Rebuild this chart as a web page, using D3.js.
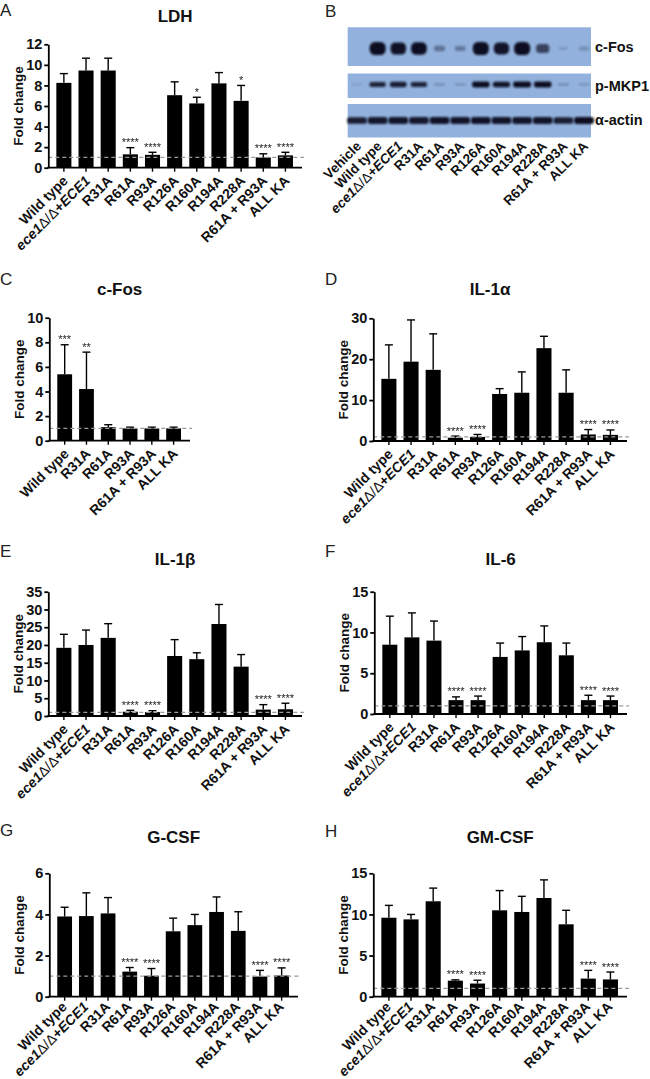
<!DOCTYPE html>
<html><head><meta charset="utf-8">
<script src="https://cdn.jsdelivr.net/npm/d3@7"></script>
<style>
body{margin:0;background:#fff;}
svg{display:block;font-family:"Liberation Sans",Arial,Helvetica,sans-serif;}
</style>
</head><body>
<svg id="fig" width="650" height="1079"></svg>
<script>
// ---------------- DATA ----------------
const mutants = ["Wild type","ece1Δ/Δ+ECE1","R31A","R61A","R93A","R126A","R160A","R194A","R228A","R61A + R93A","ALL KA"];
const cFosCategories = ["Wild type","R31A","R61A","R93A","R61A + R93A","ALL KA"];
const blotLanes = ["Vehicle","Wild type","ece1Δ/Δ+ECE1","R31A","R61A","R93A","R126A","R160A","R194A","R228A","R61A + R93A","ALL KA"];

// Western blot band intensities (0..1)
const blotCFos   = [0.00, 1.00, 0.92, 0.95, 0.30, 0.25, 1.00, 0.90, 1.00, 0.60, 0.05, 0.12];
const blotPMKP1  = [0.03, 0.80, 0.85, 0.80, 0.12, 0.10, 0.95, 0.90, 1.00, 0.95, 0.12, 0.08];
const blotActin  = [0.85, 0.88, 0.90, 0.88, 0.92, 0.90, 0.92, 0.90, 0.90, 0.90, 0.85, 0.95];

// A: LDH
const ldhMean  = [8.25, 9.45, 9.45, 1.30, 1.25, 7.05, 6.25, 8.20, 6.50, 1.00, 1.20];
const ldhSD    = [0.90, 1.20, 1.20, 0.65, 0.25, 1.30, 0.60, 1.05, 1.50, 0.35, 0.30];
const ldhStars = ["", "", "", "****", "****", "", "*", "", "*", "****", "****"];

// C: c-Fos
const cFosMean  = [5.40, 4.20, 1.10, 1.00, 1.00, 1.00];
const cFosSD    = [2.40, 3.00, 0.20, 0.10, 0.10, 0.10];
const cFosStars = ["***", "**", "", "", "", ""];

// D: IL-1alpha
const il1aMean  = [15.2, 19.4, 17.4, 0.8, 1.0, 11.5, 11.8, 22.7, 11.8, 1.6, 1.5];
const il1aSD    = [8.3, 10.2, 8.8, 0.4, 0.6, 1.3, 5.1, 2.9, 5.6, 1.2, 1.2];
const il1aStars = ["", "", "", "****", "****", "", "", "", "", "****", "****"];

// E: IL-1beta
const il1bMean  = [19.2, 20.0, 22.0, 1.2, 1.1, 16.9, 16.0, 25.9, 13.9, 1.8, 1.9];
const il1bSD    = [3.8, 4.2, 4.0, 0.4, 0.4, 4.6, 1.8, 5.5, 3.4, 1.4, 1.7];
const il1bStars = ["", "", "", "****", "****", "", "", "", "", "****", "****"];

// F: IL-6
const il6Mean  = [8.5, 9.4, 9.0, 1.7, 1.7, 7.0, 7.8, 8.8, 7.2, 1.7, 1.7];
const il6SD    = [3.5, 3.0, 2.4, 0.4, 0.5, 1.7, 1.7, 2.0, 1.5, 0.6, 0.5];
const il6Stars = ["", "", "", "****", "****", "", "", "", "", "****", "****"];

// G: G-CSF
const gcsfMean  = [3.90, 3.92, 4.05, 1.22, 1.02, 3.18, 3.48, 4.12, 3.20, 0.98, 1.03];
const gcsfSD    = [0.45, 1.13, 0.77, 0.20, 0.35, 0.64, 0.52, 0.73, 0.93, 0.30, 0.37];
const gcsfStars = ["", "", "", "****", "****", "", "", "", "", "****", "****"];

// H: GM-CSF
const gmcsfMean  = [9.6, 9.4, 11.6, 1.95, 1.6, 10.5, 10.3, 12.0, 8.8, 2.2, 2.1];
const gmcsfSD    = [1.5, 0.6, 1.6, 0.10, 0.4, 2.4, 1.9, 2.2, 1.7, 1.0, 0.9];
const gmcsfStars = ["", "", "", "****", "****", "", "", "", "", "****", "****"];

// ---------------- DRAWING ----------------
const svg = d3.select("#fig");
const FONT_COLOR = "#111";

const defs = svg.append("defs");
defs.append("filter").attr("id", "blur").attr("x", "-50%").attr("y", "-50%")
  .attr("width", "200%").attr("height", "200%")
  .append("feGaussianBlur").attr("stdDeviation", 0.9);
defs.append("filter").attr("id", "gray").attr("x", "-20%").attr("y", "-50%")
  .attr("width", "140%").attr("height", "200%")
  .append("feOffset").attr("dx", 0).attr("dy", 0);

function writeLabel(textSel, label) {
  if (label === "ece1Δ/Δ+ECE1") {
    textSel.append("tspan").attr("font-style", "italic").text("ece1");
    textSel.append("tspan").attr("font-weight", "normal").text("Δ/Δ");
    textSel.append("tspan").text("+");
    textSel.append("tspan").attr("font-style", "italic").text("ECE1");
  } else {
    textSel.text(label);
  }
}

const panels = [
  {letter:"A", lx:0,   ly:16,  title:"LDH",    cats:mutants, means:ldhMean, sd:ldhSD, stars:ldhStars,
   axisX:48.3, xEnd:302, yTop:44.3, yBot:167.7, yMax:12, step:2, titleY:22, ldx:5, ldy:14},
  {letter:"C", lx:0,   ly:285, title:"c-Fos",  cats:cFosCategories, means:cFosMean, sd:cFosSD, stars:cFosStars,
   axisX:49.3, xEnd:190, yTop:317.7, yBot:440.7, yMax:10, step:2, titleY:295, ldx:5, ldy:14},
  {letter:"D", lx:325, ly:285, title:"IL-1α",  cats:mutants, means:il1aMean, sd:il1aSD, stars:il1aStars,
   axisX:373.3, xEnd:627, yTop:318.3, yBot:441, yMax:30, step:10, titleY:295, titleX:490, ldx:5, ldy:14},
  {letter:"E", lx:0,   ly:557, title:"IL-1β",  cats:mutants, means:il1bMean, sd:il1bSD, stars:il1bStars,
   axisX:48.3, xEnd:302, yTop:591.7, yBot:716, yMax:35, step:5, titleY:565, ldx:5, ldy:14},
  {letter:"F", lx:325, ly:557, title:"IL-6",   cats:mutants, means:il6Mean, sd:il6SD, stars:il6Stars,
   axisX:374.3, xEnd:627, yTop:591.7, yBot:714, yMax:15, step:5, titleY:565, ldx:5, ldy:14},
  {letter:"G", lx:0,   ly:836, title:"G-CSF",  cats:mutants, means:gcsfMean, sd:gcsfSD, stars:gcsfStars,
   axisX:49.3, xEnd:298, yTop:873.3, yBot:996.7, yMax:6, step:2, titleY:843, ldx:3, ldy:11},
  {letter:"H", lx:325, ly:837, title:"GM-CSF", cats:mutants, means:gmcsfMean, sd:gmcsfSD, stars:gmcsfStars,
   axisX:373.3, xEnd:627, yTop:873.3, yBot:996.7, yMax:15, step:5, titleY:843, ldx:3, ldy:11}
];

panels.forEach(p => {
  const g = svg.append("g");
  g.append("text").attr("x", p.lx).attr("y", p.ly).attr("font-size", 17)
    .attr("fill", "#222").text(p.letter);
  g.append("text").attr("x", p.titleX || (p.axisX + p.xEnd) / 2).attr("y", p.titleY)
    .attr("text-anchor", "middle").attr("font-size", 17).attr("font-weight", "bold")
    .attr("fill", FONT_COLOR).text(p.title);

  const x = d3.scaleBand().domain(p.cats).range([p.axisX + 4.5, p.xEnd - 5.5])
    .paddingInner(0.32).paddingOuter(0.16);
  const y = d3.scaleLinear().domain([0, p.yMax]).range([p.yBot, p.yTop]);

  const rows = p.cats.map((c, i) => ({c, m: p.means[i], s: p.sd[i], st: p.stars[i]}));

  g.selectAll("rect.bar").data(rows).join("rect").attr("class", "bar")
    .attr("x", d => x(d.c)).attr("width", x.bandwidth())
    .attr("y", d => y(d.m)).attr("height", d => y(0) - y(d.m)).attr("fill", "#000");

  const eb = g.selectAll("g.eb").data(rows).join("g").attr("class", "eb")
    .attr("stroke", "#000").attr("stroke-width", 1.4);
  eb.append("line")
    .attr("x1", d => x(d.c) + x.bandwidth() / 2).attr("x2", d => x(d.c) + x.bandwidth() / 2)
    .attr("y1", d => y(d.m)).attr("y2", d => y(d.m + d.s));
  eb.append("line")
    .attr("x1", d => x(d.c) + x.bandwidth() / 2 - 4).attr("x2", d => x(d.c) + x.bandwidth() / 2 + 4)
    .attr("y1", d => y(d.m + d.s)).attr("y2", d => y(d.m + d.s));

  g.append("g").attr("filter", "url(#gray)")
    .selectAll("text.star").data(rows.filter(d => d.st)).join("text").attr("class", "star")
    .attr("x", d => x(d.c) + x.bandwidth() / 2).attr("y", d => y(d.m + d.s) - 1.5)
    .attr("text-anchor", "middle").attr("font-size", 11).attr("fill", "#222")
    .text(d => d.st);

  g.append("line").attr("x1", p.axisX).attr("x2", p.xEnd + 2)
    .attr("y1", y(1)).attr("y2", y(1))
    .attr("stroke", "#9a9a9a").attr("stroke-width", 1.2).attr("stroke-dasharray", "4,3");

  const ya = g.append("g").attr("transform", `translate(${p.axisX},0)`)
    .call(d3.axisLeft(y).tickValues(d3.range(0, p.yMax + p.step / 2, p.step))
      .tickSize(4).tickSizeOuter(0).tickPadding(2).tickFormat(d3.format("d")));
  ya.select(".domain").attr("stroke", "#000").attr("stroke-width", 1.8);
  ya.selectAll(".tick line").attr("stroke", "#000").attr("stroke-width", 1.8);
  ya.selectAll(".tick text").attr("font-size", 14.5).attr("font-weight", "bold")
    .attr("fill", FONT_COLOR).attr("font-family", null);

  const xa = g.append("g").attr("transform", `translate(0,${p.yBot})`)
    .call(d3.axisBottom(x).tickSize(4).tickSizeOuter(0).tickFormat(""));
  xa.select(".domain").remove();
  xa.selectAll(".tick line").attr("stroke", "#000").attr("stroke-width", 1.4);
  g.append("line").attr("x1", p.axisX - 0.9).attr("x2", p.xEnd)
    .attr("y1", p.yBot).attr("y2", p.yBot).attr("stroke", "#000").attr("stroke-width", 1.8);

  p.cats.forEach(c => {
    const cx = x(c) + x.bandwidth() / 2;
    const t = g.append("text")
      .attr("transform", `translate(${cx + p.ldx},${p.yBot + p.ldy}) rotate(-45)`)
      .attr("text-anchor", "end").attr("font-size", 14).attr("font-weight", "bold")
      .attr("fill", FONT_COLOR);
    writeLabel(t, c);
  });

  g.append("text")
    .attr("transform", `translate(${p.axisX - 25},${(p.yTop + p.yBot) / 2}) rotate(-90)`)
    .attr("text-anchor", "middle").attr("font-size", 13.5).attr("font-weight", "bold")
    .attr("fill", FONT_COLOR).text("Fold change");
});

// ---------------- PANEL B: western blot ----------------
const gb = svg.append("g");
gb.append("text").attr("x", 325).attr("y", 17).attr("font-size", 17).attr("fill", "#222").text("B");

const lane = d3.scalePoint().domain(blotLanes).range([357, 584]);
const blotRows = [
  {name:"c-Fos",   vals:blotCFos,  y0:27.3, y1:66,    cy:48.5, hMin:2.5, hMax:13, wMin:9,  wMax:16, ly:52},
  {name:"p-MKP1",  vals:blotPMKP1, y0:73.5, y1:98,    cy:84.5, hMin:2,   hMax:6,  wMin:10, wMax:18, ly:91},
  {name:"α-actin", vals:blotActin, y0:104,  y1:137.5, cy:120.5,hMin:5,   hMax:7,  wMin:18, wMax:20, ly:125}
];
blotRows.forEach(r => {
  gb.append("rect").attr("x", 347.7).attr("y", r.y0).attr("width", 591 - 347.7)
    .attr("height", r.y1 - r.y0).attr("fill", "#92b1dc");
  const bands = blotLanes.map((l, i) => ({l, v: r.vals[i]})).filter(d => d.v > 0.01);
  gb.selectAll(null).data(bands).join("rect")
    .attr("x", d => lane(d.l) - (r.wMin + (r.wMax - r.wMin) * d.v) / 2)
    .attr("width", d => r.wMin + (r.wMax - r.wMin) * d.v)
    .attr("y", d => r.cy - (r.hMin + (r.hMax - r.hMin) * d.v) / 2)
    .attr("height", d => r.hMin + (r.hMax - r.hMin) * d.v)
    .attr("rx", d => (r.hMin + (r.hMax - r.hMin) * d.v) / 2.5)
    .attr("fill", "#0b1022")
    .attr("opacity", d => Math.min(1, 0.1 + 0.95 * d.v))
    .attr("filter", "url(#blur)");
  gb.append("text").attr("x", 595).attr("y", r.ly).attr("font-size", 14.5)
    .attr("font-weight", "bold").attr("fill", FONT_COLOR).text(r.name);
});
blotLanes.forEach(l => {
  const t = gb.append("text")
    .attr("transform", `translate(${lane(l) + 5},${147}) rotate(-45)`)
    .attr("text-anchor", "end").attr("font-size", 13.5).attr("font-weight", "bold")
    .attr("fill", FONT_COLOR);
  writeLabel(t, l);
});
</script>
</body></html>
